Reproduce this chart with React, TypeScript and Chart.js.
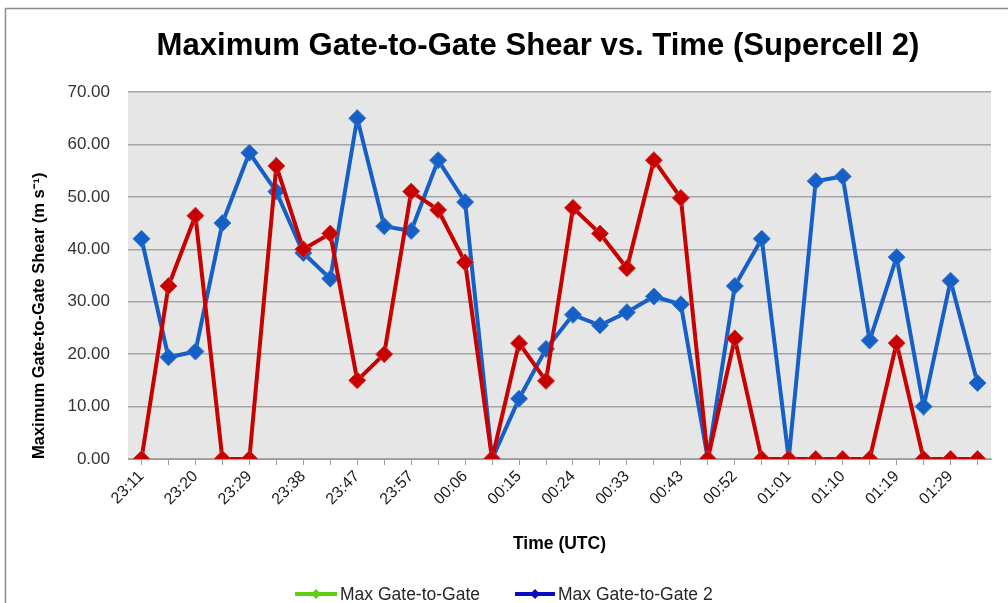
import React, { useEffect, useRef } from "react";
import { Chart, registerables } from "chart.js";

Chart.register(...registerables);

const categories: string[] = [
  "23:11", "", "23:20", "", "23:29", "", "23:38", "", "23:47", "", "23:57", "", "00:06", "", "00:15", "",
  "00:24", "", "00:33", "", "00:43", "", "00:52", "", "01:01", "", "01:10", "", "01:19", "", "01:29", "",
];

const seriesRed: number[] = [
  0, 33, 46.4, 0, 0, 55.9, 40, 43, 15, 20, 51, 47.5, 37.5, 0, 22.1, 14.9,
  47.9, 43, 36.4, 57, 49.8, 0, 23, 0, 0, 0, 0, 0, 22.1, 0, 0, 0,
];

const seriesBlue: number[] = [
  42, 19.4, 20.5, 45, 58.4, 51, 39.3, 34.4, 65, 44.4, 43.5, 57, 49, 0, 11.5, 21,
  27.5, 25.5, 28, 31, 29.5, 0, 33, 42, 0, 53, 53.9, 22.6, 38.5, 10, 34, 14.5,
];

const legendNames: string[] = ["Max Gate-to-Gate", "Max Gate-to-Gate 2"];
const legendColors: string[] = ["#5fcf12", "#0a0ac2"];

const TITLE = "Maximum Gate-to-Gate Shear vs. Time (Supercell 2)";
const FONT = '"Liberation Sans", Arial, sans-serif';

export default function App() {
  const ref = useRef<HTMLCanvasElement | null>(null);

  useEffect(() => {
    document.body.style.margin = "0";
    const canvas = ref.current;
    if (!canvas) return;

    const decor = {
      id: "decor",
      beforeDraw(chart: any) {
        const { ctx, chartArea } = chart;
        ctx.save();
        ctx.fillStyle = "#ffffff";
        ctx.fillRect(0, 0, chart.width, chart.height);
        ctx.fillStyle = "#e6e6e6";
        ctx.fillRect(chartArea.left, chartArea.top, chartArea.right - chartArea.left, chartArea.bottom - chartArea.top);
        ctx.restore();
      },
      afterDraw(chart: any) {
        const { ctx } = chart;
        ctx.save();
        ctx.strokeStyle = "#8c8c8c";
        ctx.lineWidth = 1.5;
        ctx.beginPath();
        ctx.moveTo(5.5, 700);
        ctx.lineTo(5.5, 8.5);
        ctx.lineTo(1100, 8.5);
        ctx.stroke();
        let size = 30;
        ctx.font = `bold ${size}px ${FONT}`;
        const w = ctx.measureText(TITLE).width;
        size = size * 763 / w;
        ctx.font = `bold ${size}px ${FONT}`;
        ctx.fillStyle = "#000000";
        ctx.textAlign = "center";
        ctx.textBaseline = "middle";
        ctx.fillText(TITLE, 538, 46);
        const items = [
          { x0: 295, x1: 337, tx: 340 },
          { x0: 515, x1: 555, tx: 558 },
        ];
        const ly = 594;
        ctx.font = `17.5px ${FONT}`;
        ctx.textAlign = "left";
        items.forEach((it, i) => {
          ctx.strokeStyle = legendColors[i];
          ctx.lineWidth = 4;
          ctx.beginPath();
          ctx.moveTo(it.x0, ly);
          ctx.lineTo(it.x1, ly);
          ctx.stroke();
          const cx = (it.x0 + it.x1) / 2;
          ctx.fillStyle = legendColors[i];
          ctx.beginPath();
          ctx.moveTo(cx, ly - 5);
          ctx.lineTo(cx + 5, ly);
          ctx.lineTo(cx, ly + 5);
          ctx.lineTo(cx - 5, ly);
          ctx.closePath();
          ctx.fill();
          ctx.fillStyle = "#262626";
          ctx.fillText(legendNames[i], it.tx, ly + 1);
        });
        ctx.restore();
      },
    };

    const chart = new Chart(canvas, {
      type: "line",
      data: {
        labels: categories,
        datasets: [
          {
            label: legendNames[0],
            data: seriesRed,
            borderColor: "#c80000",
            backgroundColor: "#c80000",
            pointBorderColor: "#d23a3a",
            borderWidth: 4,
            pointStyle: "rectRot",
            pointRadius: 8.5,
            pointBorderWidth: 1,
            tension: 0,
          },
          {
            label: legendNames[1],
            data: seriesBlue,
            borderColor: "#1560c6",
            backgroundColor: "#1560c6",
            pointBorderColor: "#3a78cc",
            borderWidth: 4,
            pointStyle: "rectRot",
            pointRadius: 8.5,
            pointBorderWidth: 1,
            tension: 0,
          },
        ],
      },
      options: {
        animation: false,
        responsive: false,
        maintainAspectRatio: false,
        layout: { padding: { left: 5, top: 92, right: 17, bottom: 44 } },
        plugins: {
          legend: { display: false },
          title: { display: false },
          tooltip: { enabled: false },
        },
        scales: {
          x: {
            offset: true,
            afterFit(scale: any) {
              scale.height = 100;
            },
            grid: {
              drawOnChartArea: false,
              drawTicks: true,
              tickLength: 6,
              offset: false,
              color: "#9a9a9a",
            },
            border: { display: true, color: "#9a9a9a" },
            ticks: {
              autoSkip: false,
              maxRotation: 45,
              minRotation: 45,
              color: "#1a1a1a",
              font: { family: FONT, size: 16 },
              padding: 2,
            },
            title: {
              display: true,
              text: "Time (UTC)",
              align: "center",
              color: "#000000",
              font: { family: FONT, size: 17.5, weight: "bold" },
              padding: { top: 4, bottom: 4 },
            },
          },
          y: {
            min: 0,
            max: 70,
            afterFit(scale: any) {
              scale.width = 123;
            },
            grid: {
              color: "#a6a6a6",
              lineWidth: 1.5,
              drawTicks: false,
            },
            border: { display: false },
            ticks: {
              stepSize: 10,
              padding: 18,
              color: "#333333",
              font: { family: FONT, size: 17 },
              callback: (v: any) => Number(v).toFixed(2),
            },
            title: {
              display: true,
              text: "Maximum Gate-to-Gate Shear (m s⁻¹)",
              align: "start",
              color: "#000000",
              font: { family: FONT, size: 16.5, weight: "bold" },
              padding: { top: 25, bottom: 4 },
            },
          },
        },
      },
      plugins: [decor],
    } as any);

    return () => chart.destroy();
  }, []);

  return (
    <div style={{ position: "absolute", left: 0, top: 0, width: 1008, height: 603 }}>
      <canvas ref={ref} width={1008} height={603} style={{ width: 1008, height: 603, display: "block" }} />
    </div>
  );
}
